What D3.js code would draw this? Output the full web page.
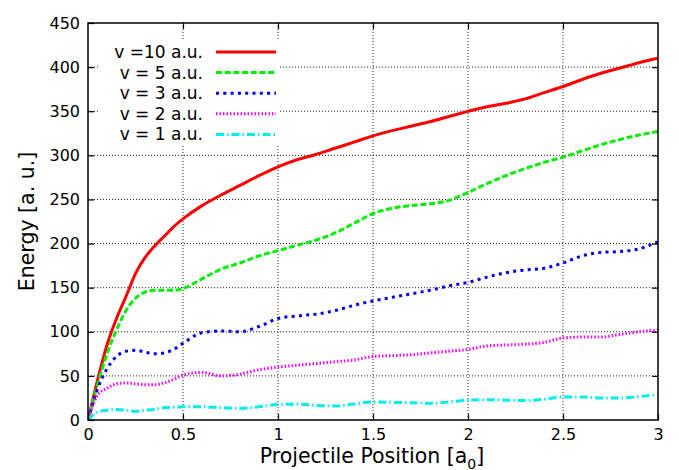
<!DOCTYPE html>
<html>
<head>
<meta charset="utf-8">
<script src="https://cdn.jsdelivr.net/npm/d3@7"></script>
<style>
  html, body { margin: 0; padding: 0; background: #fff; }
  svg text { font-family: "DejaVu Sans", sans-serif; fill: #000; }
</style>
</head>
<body>
<div id="container"></div>
<script>
// positions along the projectile path [a0]
var positions = [0, 0.05, 0.1, 0.15, 0.2, 0.25, 0.3, 0.35, 0.4, 0.45, 0.5,
  0.6, 0.7, 0.8, 0.9, 1.0, 1.1, 1.2, 1.3, 1.4, 1.5, 1.6, 1.7, 1.8, 1.9, 2.0,
  2.1, 2.2, 2.3, 2.4, 2.5, 2.6, 2.7, 2.8, 2.9, 3.0];

// energy [a.u.] for each velocity
var v10 = [0, 45, 85, 115, 140, 166, 184, 197, 208, 219, 228,
  243, 255, 266, 277, 287, 295, 301, 308, 315, 322, 328, 333, 338, 344, 350,
  355, 359, 364, 371, 378, 386, 393, 399, 405, 410];
var v5 = [0, 40, 75, 102, 124, 138, 145, 147, 147, 147, 149,
  160, 171, 178, 186, 192, 198, 204, 212, 223, 234, 240, 243, 245, 249, 258,
  268, 277, 285, 292, 298, 305, 312, 318, 323, 327];
var v3 = [0, 35, 58, 72, 78, 79, 77, 75, 76, 80, 87,
  99, 101, 100, 106, 115, 118, 120, 124, 130, 135, 139, 143, 147, 152, 156,
  162, 167, 170, 172, 178, 186, 190, 191, 194, 202];
var v2 = [0, 28, 36, 41, 42, 41, 40, 40, 42, 46, 51,
  54, 50, 52, 57, 60, 62, 64, 66, 68, 72, 73, 74, 76, 78, 80,
  84, 85, 86, 88, 93, 94, 94, 97, 100, 102];
var v1 = [0, 9, 11, 12, 11, 10, 11, 12, 14, 14.5, 15,
  15, 14, 13, 15, 17.5, 18, 16.5, 16, 18, 20.5, 20, 19.5, 19, 20.5, 22.5,
  23, 22.5, 22, 23.5, 26, 26, 25, 25, 26.5, 29];

var seriesNames = ["v =10 a.u.", "v = 5 a.u.", "v = 3 a.u.", "v = 2 a.u.", "v = 1 a.u."];
var seriesValues = [v10, v5, v3, v2, v1];
var seriesColors = ["#ff0000", "#00ee00", "#0000ee", "#ff00ff", "#00eeee"];
var seriesDash = [null, "6,2.7", "3,4.3", "1.5,2", "8,3,1.5,3"];

var xTicks = [0, 0.5, 1, 1.5, 2, 2.5, 3];
var yTicks = [0, 50, 100, 150, 200, 250, 300, 350, 400, 450];

var W = 679, H = 470;
var padL = 88, padT = 23, plotW = 570, plotH = 397;

var svg = d3.select("#container").append("svg")
  .attr("width", W).attr("height", H);

var x = d3.scaleLinear().domain([0, 3]).range([padL, padL + plotW]);
var y = d3.scaleLinear().domain([0, 450]).range([padT + plotH, padT]);

// grid
var grid = svg.append("g");
grid.selectAll("line.gx").data(xTicks.slice(1, -1)).enter().append("line")
  .attr("x1", d => x(d)).attr("x2", d => x(d))
  .attr("y1", padT).attr("y2", padT + plotH)
  .attr("stroke", "#222").attr("stroke-width", 1).attr("stroke-dasharray", "1,2");
grid.selectAll("line.gy").data(yTicks.slice(1, -1)).enter().append("line")
  .attr("x1", padL).attr("x2", padL + plotW)
  .attr("y1", d => y(d)).attr("y2", d => y(d))
  .attr("stroke", "#222").attr("stroke-width", 1).attr("stroke-dasharray", "1,2");

// legend background hides the grid
svg.append("rect").attr("x", 98).attr("y", 40).attr("width", 182).attr("height", 106)
  .attr("fill", "#fff");

svg.append("clipPath").attr("id", "clip").append("rect")
  .attr("x", padL).attr("y", padT).attr("width", plotW).attr("height", plotH);

var line = d3.line().curve(d3.curveMonotoneX);

for (var i = 0; i < seriesValues.length; i++) {
  var pts = positions.map((p, j) => [x(p), y(seriesValues[i][j])]);
  svg.append("path")
    .attr("clip-path", "url(#clip)")
    .attr("d", line(pts))
    .attr("fill", "none")
    .attr("stroke", seriesColors[i])
    .attr("stroke-width", 3)
    .attr("stroke-dasharray", seriesDash[i]);
}

// frame
svg.append("rect").attr("x", padL).attr("y", padT).attr("width", plotW).attr("height", plotH)
  .attr("fill", "none").attr("stroke", "#000").attr("stroke-width", 1.5);

// axes, ticks inward on all four sides
var axB = svg.append("g").attr("transform", "translate(0," + (padT + plotH) + ")")
  .call(d3.axisBottom(x).tickValues(xTicks).tickSizeInner(-6).tickSizeOuter(0).tickPadding(9).tickFormat(d3.format("")));
var axL = svg.append("g").attr("transform", "translate(" + padL + ",0)")
  .call(d3.axisLeft(y).tickValues(yTicks).tickSizeInner(-6).tickSizeOuter(0).tickPadding(8));
var axT = svg.append("g").attr("transform", "translate(0," + padT + ")")
  .call(d3.axisTop(x).tickValues(xTicks.slice(1, -1)).tickSizeInner(-6).tickSizeOuter(0).tickFormat(""));
var axR = svg.append("g").attr("transform", "translate(" + (padL + plotW) + ",0)")
  .call(d3.axisRight(y).tickValues(yTicks.slice(1, -1)).tickSizeInner(-6).tickSizeOuter(0).tickFormat(""));

[axB, axL, axT, axR].forEach(function(a) {
  a.select(".domain").remove();
  a.selectAll(".tick line").attr("stroke", "#000").attr("stroke-width", 1.2);
  a.selectAll("text").attr("font-family", "DejaVu Sans").attr("font-size", 16).attr("fill", "#000");
});

// axis titles
var xTitle = svg.append("text").attr("x", 372).attr("y", 463)
  .attr("text-anchor", "middle").attr("font-size", 20.5);
xTitle.append("tspan").text("Projectile Position [a");
xTitle.append("tspan").attr("font-size", 14).attr("dy", 6).text("0");
xTitle.append("tspan").attr("dy", -6).text("]");

svg.append("text")
  .attr("transform", "translate(34," + (padT + plotH / 2) + ") rotate(-90)")
  .attr("text-anchor", "middle").attr("font-size", 20.5)
  .text("Energy [a. u.]");

// legend
var legend = svg.append("g");
for (var k = 0; k < seriesNames.length; k++) {
  var ly = 52 + k * 20.6;
  legend.append("text").attr("x", 203).attr("y", ly + 6)
    .attr("text-anchor", "end").attr("font-size", 17).text(seriesNames[k]);
  legend.append("line")
    .attr("x1", 216).attr("x2", 276).attr("y1", ly).attr("y2", ly)
    .attr("stroke", seriesColors[k]).attr("stroke-width", 3)
    .attr("stroke-dasharray", seriesDash[k]);
}
</script>
</body>
</html>
